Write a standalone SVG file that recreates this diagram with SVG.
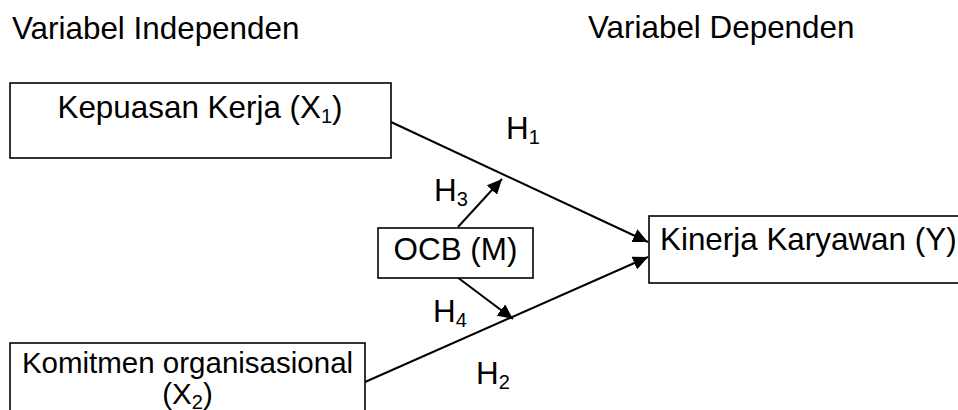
<svg xmlns="http://www.w3.org/2000/svg" width="958" height="410" viewBox="0 0 958 410">
  <style>
    text { font-family: "Liberation Sans", Arial, sans-serif; font-size: 31.4px; fill: #000; }
    .box { fill: #fff; stroke: #000; stroke-width: 1.6; }
    .link { stroke: #000; stroke-width: 2; fill: none; }
    .sub { font-size: 20px; }
    .small { font-size: 29.5px; }
  </style>
  <defs>
    <marker id="arrow" markerUnits="userSpaceOnUse" markerWidth="16" markerHeight="14" refX="15" refY="7" orient="auto">
      <path d="M0,0 L15,7 L0,14 Z" fill="#000"/>
    </marker>
  </defs>

  <!-- column headings -->
  <text x="12" y="39">Variabel Independen</text>
  <text x="588" y="38">Variabel Dependen</text>

  <!-- connectors -->
  <g id="connectors">
    <line class="link" x1="391" y1="122" x2="648" y2="242" marker-end="url(#arrow)"/>
    <line class="link" x1="365" y1="382" x2="648" y2="257" marker-end="url(#arrow)"/>
    <line class="link" x1="458" y1="227" x2="502" y2="179" marker-end="url(#arrow)"/>
    <line class="link" x1="457" y1="277" x2="513" y2="319" marker-end="url(#arrow)"/>
  </g>

  <!-- hypothesis labels -->
  <g id="labels">
    <text x="506" y="139">H<tspan class="sub" dy="5">1</tspan></text>
    <text x="434" y="201">H<tspan class="sub" dy="5">3</tspan></text>
    <text x="433" y="322">H<tspan class="sub" dy="5">4</tspan></text>
    <text x="476" y="384">H<tspan class="sub" dy="5">2</tspan></text>
  </g>

  <g id="x1">
    <rect class="box" x="10" y="83" width="381" height="75"/>
    <text x="200" y="118" text-anchor="middle">Kepuasan Kerja (X<tspan class="sub" dy="5">1</tspan><tspan dy="-5">)</tspan></text>
  </g>

  <g id="x2">
    <rect class="box" x="10" y="343" width="355" height="80"/>
    <text class="small" x="187.5" y="373" text-anchor="middle">Komitmen organisasional</text>
    <text class="small" x="187.5" y="404" text-anchor="middle">(X<tspan class="sub" dy="5">2</tspan><tspan dy="-5">)</tspan></text>
  </g>

  <g id="m">
    <rect class="box" x="378" y="228" width="155" height="50"/>
    <text x="455.5" y="260" text-anchor="middle">OCB (M)</text>
  </g>

  <g id="y">
    <rect class="box" x="649" y="216" width="330" height="67"/>
    <text x="660" y="250">Kinerja Karyawan (Y)</text>
  </g>
</svg>
